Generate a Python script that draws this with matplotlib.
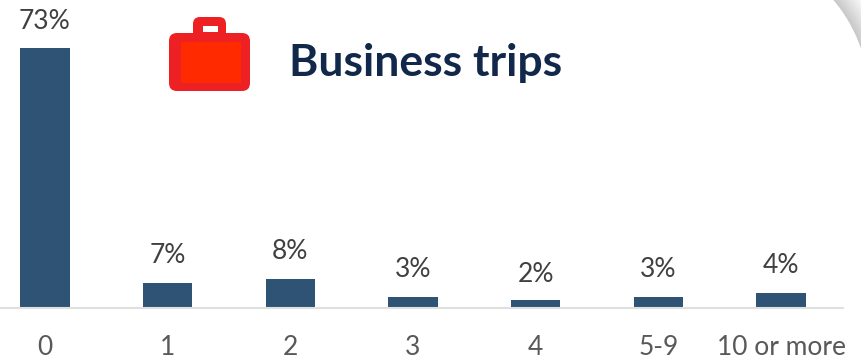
import numpy as np
import matplotlib
matplotlib.use('Agg')
import matplotlib.pyplot as plt
from matplotlib.patches import FancyBboxPatch, Rectangle

categories = ['0', '1', '2', '3', '4', '5-9', '10 or more']
shares = [73, 7, 8, 3, 2, 3, 4]
label_gap = [27, 27, 28, 27, 26, 27, 28]

plt.rcParams['font.family'] = ['Lato', 'DejaVu Sans']

W, H = 861, 359
fig = plt.figure(figsize=(W / 100, H / 100), dpi=100, facecolor='white')

# bars, baseline sits at y=307 px
ax = fig.add_axes([0, (H - 307.5) / H, 843 / W, 307.5 / H])
step = 122.67
ax.set_xlim(-45 / step, (843 - 45) / step)
ax.set_ylim(0, 307.5 / 3.55)
ax.patch.set_alpha(0)
x = np.arange(len(categories))
ax.bar(x, shares, width=0.4, color='#2f5375')
for i, v in enumerate(shares):
    ax.annotate(f'{v}%', (i, v), xytext=(0, label_gap[i] * 0.72), textcoords='offset points',
                ha='center', va='center', fontsize=19, color='#404040', annotation_clip=False)

for s in ['top', 'left', 'right']:
    ax.spines[s].set_visible(False)
ax.spines['bottom'].set_color('#e0e0e0')
ax.spines['bottom'].set_linewidth(1.5)
ax.set_yticks([])
ax.set_xticks(x)
ax.set_xticklabels(categories, fontsize=19, color='#595959')
ax.tick_params(axis='x', length=0, pad=19.5)

# overlay in pixel coordinates for the icon, title and page corner
ov = fig.add_axes([0, 0, 1, 1], zorder=5)
ov.patch.set_alpha(0)
ov.axis('off')

# curled page corner, only the top right patch of the figure
yy, xx = np.mgrid[0:60, 821:861]
dist = np.hypot(xx + 0.5 - 719.0, yy + 0.5 - 97.0) - 150.0
shade = np.clip(0.78 + dist / 25.0 * 0.22, 0, 1)
ov.imshow(shade, cmap='gray', vmin=0, vmax=1, extent=(821, 861, 60, 0), aspect='auto',
          alpha=np.clip(dist + 0.5, 0, 1), zorder=0)
ov.set_xlim(0, W)
ov.set_ylim(H, 0)

# briefcase
red = '#ed2024'
ov.add_patch(FancyBboxPatch((193, 17), 33, 22, boxstyle='round,pad=0,rounding_size=7', fc=red, ec='none'))
ov.add_patch(Rectangle((203, 26), 15, 6, fc='white', ec='none'))
ov.add_patch(FancyBboxPatch((169, 33), 81, 58, boxstyle='round,pad=0,rounding_size=8', fc=red, ec='none'))
ov.add_patch(Rectangle((181, 42), 60, 41, fc='#ff2a00', ec='none'))

ov.text(289, 63, 'Business trips', fontsize=32, fontweight='bold', color='#12284a', ha='left', va='center')

fig.savefig('out.png', dpi=100)
